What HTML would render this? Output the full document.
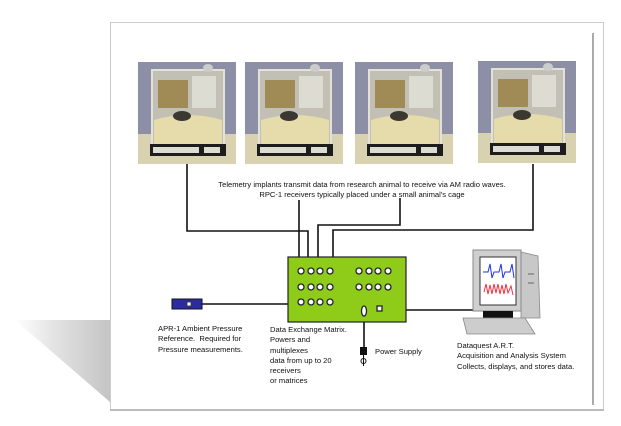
<!DOCTYPE html>
<html><head><style>
body{margin:0;width:621px;height:426px;background:#fff;position:relative;overflow:hidden;font-family:"Liberation Sans",sans-serif;}
.t{position:absolute;font-size:7.6px;color:#111;line-height:10.3px;white-space:nowrap;}
</style></head><body>
<svg width="621" height="426" style="position:absolute;left:0;top:0">
<defs>
<linearGradient id="sh" x1="0" y1="0" x2="1" y2="0"><stop offset="0" stop-color="#fff"/><stop offset="0.4" stop-color="#e4e4e4"/><stop offset="1" stop-color="#c4c4c4"/></linearGradient>
<g id="cage">
<rect x="0" y="0" width="98" height="102" fill="#8c8fa6"/>
<rect x="0" y="72" width="98" height="30" fill="#d8d2b0"/>
<rect x="14" y="8" width="72" height="76" fill="#c2c0b4" stroke="#e4e2d8" stroke-width="2"/>
<rect x="20" y="18" width="30" height="28" fill="#a08a55"/>
<rect x="54" y="14" width="24" height="32" fill="#dcdcd2"/>
<ellipse cx="70" cy="6" rx="5" ry="4" fill="#ccc"/>
<path d="M16 58 Q50 48 84 58 L84 84 L16 84Z" fill="#e6dbab"/>
<ellipse cx="44" cy="54" rx="9" ry="5" fill="#3a3830"/>
<rect x="12" y="82" width="76" height="12" fill="#1d1d1d"/>
<rect x="15" y="85" width="46" height="6" fill="#dcdcd0"/>
<rect x="66" y="85" width="16" height="6" fill="#dcdcd0"/>
</g>
</defs>
<polygon points="15,320 110,320 110,402" fill="url(#sh)"/>
<rect x="110.5" y="22.5" width="493" height="387" fill="#fff" stroke="#ccc"/>
<line x1="110" y1="410" x2="604" y2="410" stroke="#bbb" stroke-width="2"/>
<line x1="593" y1="33" x2="593" y2="405" stroke="#555"/>
<use href="#cage" x="138" y="62"/>
<use href="#cage" x="245" y="62"/>
<use href="#cage" x="355" y="62"/>
<use href="#cage" x="478" y="61"/>
<g stroke="#111" stroke-width="1.6" fill="none">
<polyline points="187,164 187,231 308,231 308,268"/>
<polyline points="299,200 299,268"/>
<polyline points="400,198 400,225 318,225 318,268"/>
<polyline points="533,164 533,230 333,230 333,268"/>
<line x1="200" y1="304" x2="300" y2="304"/>
<line x1="380" y1="310" x2="473" y2="310"/>
<line x1="364" y1="315" x2="364" y2="348"/>
</g>
<rect x="288" y="257" width="118" height="65" fill="#8fcc1a" stroke="#222" stroke-width="1.2"/>
<g fill="#fff" stroke="#223" stroke-width="1.3">
<circle cx="301" cy="271" r="3"/><circle cx="311" cy="271" r="3"/><circle cx="320" cy="271" r="3"/><circle cx="330" cy="271" r="3"/>
<circle cx="359" cy="271" r="3"/><circle cx="369" cy="271" r="3"/><circle cx="378" cy="271" r="3"/><circle cx="388" cy="271" r="3"/>
<circle cx="301" cy="287" r="3"/><circle cx="311" cy="287" r="3"/><circle cx="320" cy="287" r="3"/><circle cx="330" cy="287" r="3"/>
<circle cx="359" cy="287" r="3"/><circle cx="369" cy="287" r="3"/><circle cx="378" cy="287" r="3"/><circle cx="388" cy="287" r="3"/>
<circle cx="301" cy="302" r="3"/><circle cx="311" cy="302" r="3"/><circle cx="320" cy="302" r="3"/><circle cx="330" cy="302" r="3"/>
<ellipse cx="364" cy="311" rx="2.5" ry="5"/>
<rect x="377" y="306" width="5" height="5"/>
</g>
<rect x="172" y="299" width="30" height="10" fill="#2c2ca0" stroke="#112"/>
<rect x="187" y="302" width="4" height="4" fill="#fff" stroke="#333" stroke-width="0.8"/>
<rect x="360" y="347" width="7" height="8" fill="#111"/>
<circle cx="363.5" cy="361" r="2.5" fill="#fff" stroke="#111"/>
<line x1="363.5" y1="355" x2="363.5" y2="366" stroke="#111"/>
<polygon points="521,252 538,256 540,318 521,318" fill="#c8c8c8" stroke="#888" stroke-width="0.8"/>
<line x1="528" y1="274" x2="534" y2="274" stroke="#666"/>
<line x1="528" y1="283" x2="534" y2="283" stroke="#666"/>
<rect x="473" y="250" width="48" height="61" fill="#cfcfcf" stroke="#888"/>
<rect x="480" y="257" width="36" height="48" fill="#fff" stroke="#333"/>
<polyline points="483,272 488,272 490,264 492,278 494,272 499,272 501,264 503,278 505,272 510,272 512,264 514,278" fill="none" stroke="#2233dd" stroke-width="1"/>
<polyline points="484,292 486,284 488,294 490,285 492,294 494,284 496,293 498,284 500,294 502,285 504,294 506,284 508,293 511,286 513,295" fill="none" stroke="#ee3344" stroke-width="1"/>
<rect x="483" y="311" width="30" height="7" fill="#111"/>
<polygon points="463,318 525,318 535,334 467,334" fill="#cdcdcd" stroke="#888" stroke-width="0.8"/>
</svg>
<div class="t" style="left:186px;top:180px;width:352px;text-align:center;">Telemetry implants transmit data from research animal to receive via AM radio waves.<br>RPC-1 receivers typically placed under a small animal's cage</div>
<div class="t" style="left:158px;top:324px">APR-1 Ambient Pressure<br>Reference.&nbsp; Required for<br>Pressure measurements.</div>
<div class="t" style="left:270px;top:325px">Data Exchange Matrix.<br>Powers and<br>multiplexes<br>data from up to 20<br>receivers<br>or matrices</div>
<div class="t" style="left:375px;top:347px">Power Supply</div>
<div class="t" style="left:457px;top:341px">Dataquest A.R.T.<br>Acquisition and Analysis System<br>Collects, displays, and stores data.</div>
</body></html>
